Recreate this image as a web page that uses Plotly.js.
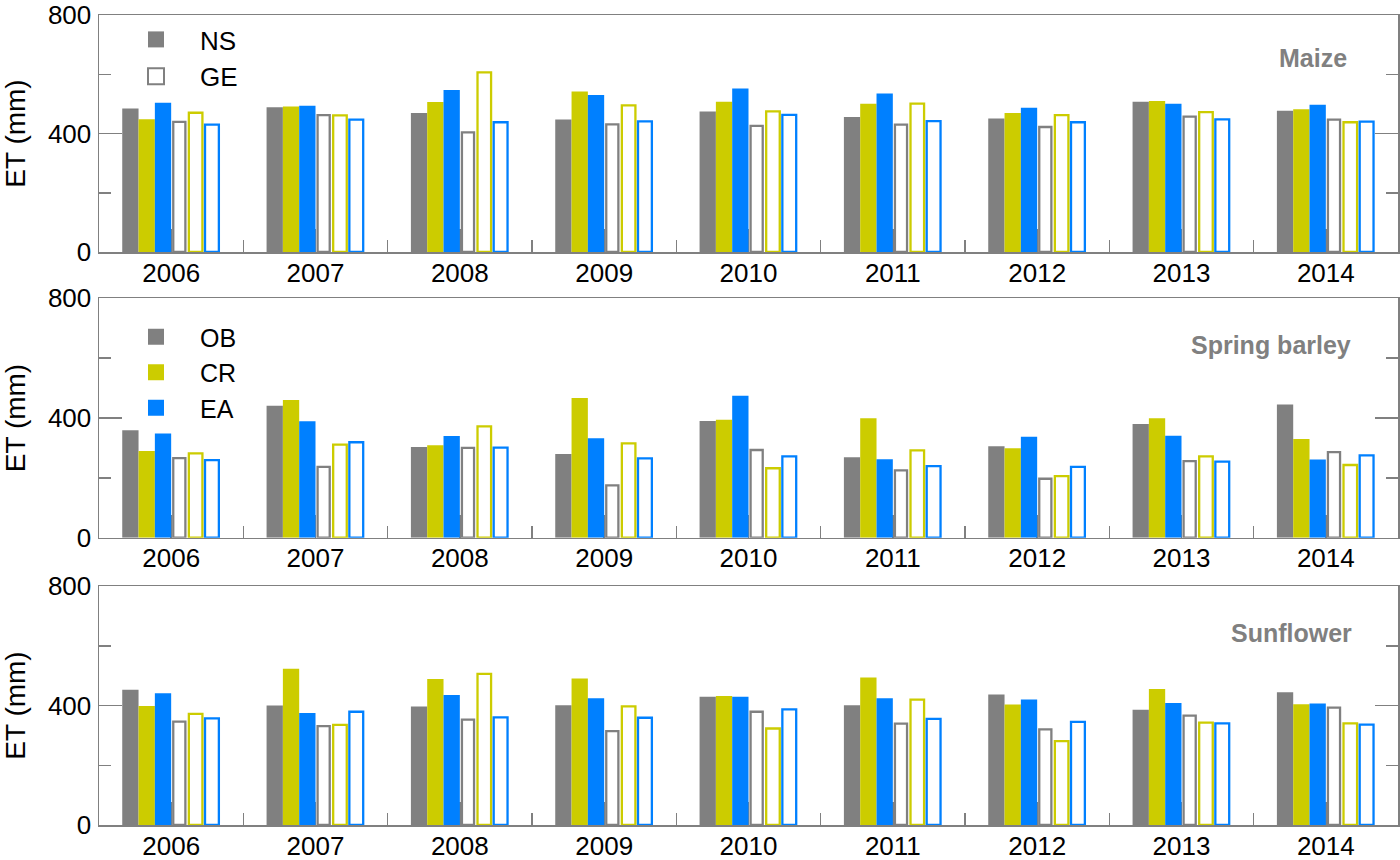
<!DOCTYPE html>
<html>
<head>
<meta charset="utf-8">
<script src="https://cdn.plot.ly/plotly-3.0.1.min.js"></script>
<style>html,body{margin:0;padding:0;background:#fff;}#chart{width:1400px;height:860px;}</style>
</head>
<body>
<div id="chart"></div>
<script>
const years = [2006, 2007, 2008, 2009, 2010, 2011, 2012, 2013, 2014];

const maize_NS_OB = [484, 489, 469, 447, 474, 456, 451, 507, 477];
const maize_NS_CR = [448, 491, 506, 542, 507, 500, 469, 510, 482];
const maize_NS_EA = [504, 494, 547, 530, 552, 535, 487, 500, 497];
const maize_GE_OB = [439, 462, 404, 431, 426, 430, 422, 457, 447];
const maize_GE_CR = [470, 461, 606, 495, 475, 501, 462, 472, 438];
const maize_GE_EA = [430, 447, 438, 441, 463, 442, 438, 448, 440];

const barley_NS_OB = [359, 441, 303, 280, 390, 269, 306, 380, 445];
const barley_NS_CR = [290, 460, 309, 467, 394, 399, 299, 399, 330];
const barley_NS_EA = [348, 389, 340, 332, 474, 262, 337, 341, 261];
const barley_GE_OB = [266, 237, 300, 175, 293, 225, 197, 256, 286];
const barley_GE_CR = [282, 311, 372, 315, 232, 292, 206, 272, 243];
const barley_GE_EA = [259, 319, 301, 265, 272, 239, 237, 254, 275];

const sun_NS_OB = [453, 400, 397, 401, 429, 401, 437, 386, 444];
const sun_NS_CR = [398, 523, 489, 490, 432, 494, 403, 455, 404];
const sun_NS_EA = [441, 375, 435, 424, 429, 424, 420, 408, 407];
const sun_GE_OB = [346, 331, 353, 314, 379, 339, 320, 366, 393];
const sun_GE_CR = [372, 335, 506, 397, 323, 420, 281, 343, 340];
const sun_GE_EA = [357, 379, 360, 359, 387, 355, 345, 340, 336];

const cropNames = ["Maize", "Spring barley", "Sunflower"];
const yTickVals = [0, 400, 800];
const yTickText = ["0", "400", "800"];

const GRAY = "#808080", YEL = "#cccc00", BLUE = "#0080ff";
const FONT = "Liberation Sans, Arial, Helvetica, sans-serif";

const panels = [
  [maize_NS_OB, maize_NS_CR, maize_NS_EA, maize_GE_OB, maize_GE_CR, maize_GE_EA],
  [barley_NS_OB, barley_NS_CR, barley_NS_EA, barley_GE_OB, barley_GE_CR, barley_GE_EA],
  [sun_NS_OB, sun_NS_CR, sun_NS_EA, sun_GE_OB, sun_GE_CR, sun_GE_EA]
];
const slotStyles = [
  {c: GRAY, filled: true}, {c: YEL, filled: true}, {c: BLUE, filled: true},
  {c: GRAY, filled: false, w: 0.084}, {c: YEL, filled: false, w: 0.094}, {c: BLUE, filled: false, w: 0.096}
];
const SLOT = 0.113;
const START = -3 * SLOT;

const traces = [];
panels.forEach((series, p) => {
  const ax = p === 0 ? "" : String(p + 1);
  series.forEach((vals, i) => {
    const st = slotStyles[i];
    const slotStart = START + i * SLOT;
    const t = {
      type: "bar", x: years, y: vals, xaxis: "x" + ax, yaxis: "y" + ax,
      showlegend: false, hoverinfo: "x+y"
    };
    if (st.filled) {
      t.width = SLOT; t.offset = slotStart;
      t.marker = {color: st.c, line: {width: 0}};
    } else {
      t.width = st.w; t.offset = slotStart + (SLOT - st.w) / 2;
      t.marker = {color: "#ffffff", line: {color: st.c, width: 2.3}};
    }
    traces.push(t);
  });
});

// legend entries
function legTrace(name, fill, line, legend) {
  return {type: "scatter", mode: "markers", x: [null], y: [null], name: name, legend: legend,
    marker: {symbol: "square", size: 16, color: fill, line: {color: line, width: line === fill ? 0 : 2}},
    hoverinfo: "skip"};
}
traces.push(legTrace("NS", GRAY, GRAY, "legend"));
traces.push(legTrace("GE", "#ffffff", GRAY, "legend"));
traces.push(legTrace("OB", GRAY, GRAY, "legend2"));
traces.push(legTrace("CR", YEL, YEL, "legend2"));
traces.push(legTrace("EA", BLUE, BLUE, "legend2"));

const T = 15, B = 35, L = 99, R = 2, H = 860, W = 1400;
const PH = H - T - B, PW = W - L - R;
const py = v => 1 - (v - T) / PH;
const px = v => (v - L) / PW;

const domains = [[py(252), 1], [py(537.7), py(298.3)], [0, py(586)]];

const layout = {
  width: W, height: H,
  margin: {l: L, r: R, t: T, b: B},
  paper_bgcolor: "#fff", plot_bgcolor: "#fff",
  barmode: "overlay",
  font: {family: FONT, size: 26, color: "#000"},
  annotations: [],
  legend: {x: px(112), y: py(16), xanchor: "left", yanchor: "top", bgcolor: "rgba(0,0,0,0)",
    font: {size: 26, family: FONT}, itemwidth: 78, tracegroupgap: 0},
  legend2: {x: px(112), y: py(314), xanchor: "left", yanchor: "top", bgcolor: "rgba(0,0,0,0)",
    font: {size: 25, family: FONT}, itemwidth: 78, tracegroupgap: 0}
};

const annY = [58.5, 345, 632.5];
const annX = [1349, 1353, 1354];

for (let p = 0; p < 3; p++) {
  const ax = p === 0 ? "" : String(p + 1);
  layout["xaxis" + ax] = {
    domain: [0, 1], anchor: "y" + ax, type: "linear",
    range: [2005.5, 2014.5],
    tickmode: "array", tickvals: years, ticktext: years.map(String),
    ticks: "inside", ticklen: 23, tickwidth: 1.5, tickcolor: GRAY,
    minor: {tick0: 2005.5, dtick: 1, ticks: "inside", ticklen: 12, tickwidth: 1.5, tickcolor: GRAY},
    showline: true, linecolor: GRAY, linewidth: 1.5, mirror: true,
    showgrid: false, zeroline: false, layer: "below traces",
    tickfont: {size: 26, family: FONT, color: "#000"},
    ticklabelstandoff: -3, ticklabeloverflow: "allow",
    fixedrange: true
  };
  layout["yaxis" + ax] = {
    domain: domains[p], anchor: "x" + ax,
    range: [0, 800],
    tickmode: "array", tickvals: yTickVals, ticktext: yTickText,
    ticks: "inside", ticklen: 23, tickwidth: 1.5, tickcolor: GRAY,
    minor: {dtick: 200, ticks: "inside", ticklen: 12, tickwidth: 1.5, tickcolor: GRAY},
    showline: true, linecolor: GRAY, linewidth: 1.5, mirror: "ticks",
    showgrid: false, zeroline: false,
    tickfont: {size: 26, family: FONT, color: "#000"},
    ticklabeloverflow: "allow", ticklabelstandoff: 1,
    title: {text: "ET (mm)", font: {size: 28, family: FONT, color: "#000"}, standoff: 19},
    fixedrange: true
  };
  layout.annotations.push({
    text: "<b>" + cropNames[p] + "</b>", xref: "paper", yref: "paper",
    x: px(annX[p]), y: py(annY[p]), xanchor: "right", yanchor: "middle",
    showarrow: false, font: {size: 25, family: FONT, color: GRAY}
  });
}

Plotly.newPlot("chart", traces, layout, {displayModeBar: false, staticPlot: true});
</script>
</body>
</html>
